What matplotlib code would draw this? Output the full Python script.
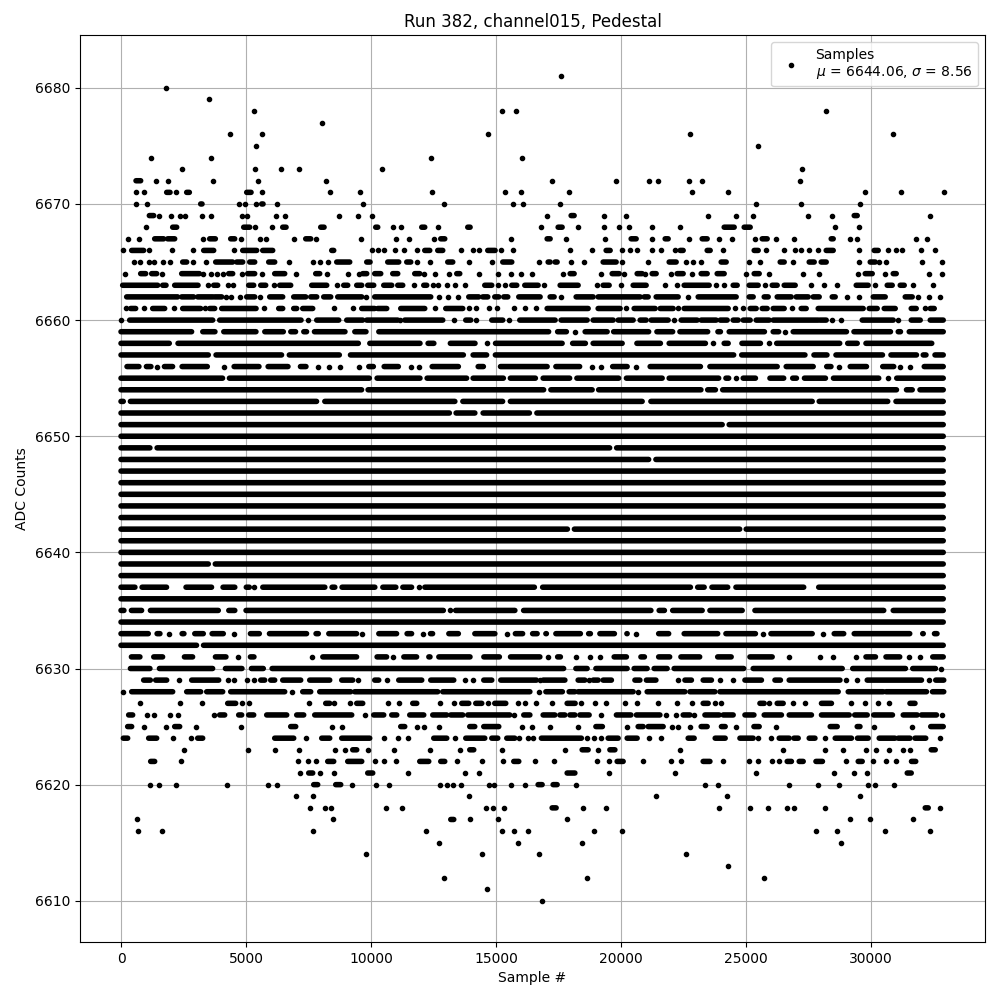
import matplotlib
matplotlib.use('Agg')
import matplotlib.pyplot as plt

title = "Run 382, channel015, Pedestal"
legend_label = "Samples\n$\\mu$ = 6644.06, $\\sigma$ = 8.56"

# ADC level -> samples. int = one dot, tuple = touching dots (first, last)
upper_rows = {
    6681: [17600],
    6680: [1786],
    6679: [3506],
    6678: [5306, 15226, 15786, 28200],
    6677: [8026],
    6676: [4346, 5626, 14666, 22760, 30880],
    6675: [5386, 25480],
    6674: [1186, 3586, 12386, 16040],
    6673: [2426, 5346, 6386, 7106, 10426, 27240],
    6672: [(600, 786), 1386, 1866, 3666, 5466, 8186, 17240, 19800, 21120, 21480, 22720, 23240, 27160],
    6671: [586, 906, (1826, 1960), 2186, (2626, 2733), (5026, 5200), 5626, 8346, 9546, 12426, 15346, 15986,
           17920, 22840, 24280, 29760, 31200, 32920],
    6670: [586, 1026, (3186, 3240), 4706, 4946, 5386, (5626, 5680), 6226, 9666, 12906, 15680, 16066,
           17560, 25400, 27200, 29560],
    6669: [(1133, 1306), 1506, 1986, 2346, 2546, 3226, 3586, 4826, 5026, 6186, 6546, 8706, 9466, 10026,
           17040, (18000, 18120), 19320, 20200, 23480, 24600, 25280, 27480, 28440, (29320, 29440), 32360],
    6668: [986, (2066, 2226), (4906, 5146), 5346, 6026, (6466, 6600), (7986, 8120), (10186, 10266), 10866, 11186,
           (12026, 12146), 12666, (13866, 13960), 16800, (17480, 17640), 18280, 19320, 19920, 20320, 21240, 22360,
           (24120, 24520), (24920, 25160), 28560, 29520],
    6667: [266, 706, (1346, 1706), (1866, 2146), 3266, (3546, 3773), (4386, 4546), 4786, 5546, 5786, 6906,
           (7386, 7586), 7786, 9586, 10986, 11506, 12506, (12786, 12946), 15586, (17040, 17160), 17800, 19360,
           (20400, 20600), 21240, (21760, 21880), 22720, (23240, 23440), 23920, 24440, 25360, (25640, 25840), 26200,
           26920, (28400, 28480), 29160, 29440, 31800, 32240],
    6666: [66, (426, 906), 1106, 2026, 2866, (3306, 3706), 4506, (4866, 5426), (5666, 6066), (8426, 8506), 10026,
           10266, 10506, 10946, 11306, 11826, (12146, 12346), (12666, 12866), 13586, 14066, 14306, (14666, 14960),
           15186, 15680, 17960, 18840, (19400, 19560), 20040, 20360, 20640, 21240, 21600, 22160, (22360, 22480),
           (23440, 23560), 24080, (25320, 25480), 25800, 26520, 26960, 27200, 27520, 27880, (28200, 28480), 29520,
           (30120, 30280), 30680, 31000, 31240, 32000, 32560],
    6665: [506, 746, 1106, 1306, 1666, 1946, (2466, 2626), 2866, 3386, (3786, 4466), (4626, 4866), (5146, 5346),
           (5906, 6146), 6706, 7666, 7946, 8266, (8626, 9146), (9826, 9960), (10666, 11106), (11426, 11586), 11826,
           12346, (13066, 13266), 13906, 14826, (15266, 15626), 16720, (17080, 17160), (17360, 17440), 18000, 18520,
           (19280, 19800), 20040, 21080, (21920, 22200), 22600, 22880, 23200, (24000, 24200), 25120, 25560,
           (26360, 26520), 26880, (27520, 27720), (28000, 28200), 29520, (29960, 30160), 30320, 30600, 32040, 32840],
    6664: [146, (786, 986), (1226, 1426), 1626, (2426, 3133), 3266, 3586, 3826, 4066, (4306, 4466), 4826, (5066, 5346),
           5626, (6146, 6546), 6986, (7786, 7946), 8226, 9066, 9506, (9666, 9826), (10146, 10386), (10866, 11066),
           (11746, 11946), 12106, 12546, 13106, (13426, 13546), 14306, 15066, 15586, 15986, 16440, 17680,
           (17960, 18120), 19200, (19640, 19920), 20120, (20640, 20840), 20960, (21240, 21400), 22000, (22240, 22480),
           22840, (23200, 23440), (23840, 24120), 25000, (25320, 25520), 25920, 27280, 27920, 29480, (29760, 30040),
           30560, (30880, 31000), 32320, 32840],
    6663: [(66, 1466), (1666, 1800), (2146, 3080), 3466, (3706, 3866), 4266, 4466, (5106, 5306), (5586, 5786), 6106,
           (6346, 6786), (7626, 8226), 8626, (8906, 9066), (9426, 9626), (9866, 10106), (10506, 10826), (11066, 11266),
           11706, (12106, 12226), 12466, 12666, 13026, 13346, 13746, (14546, 14826), 15066, 15346, (15626, 15826),
           (16146, 16680), 16920, (17560, 18280), 19040, (19280, 19520), 20000, (20480, 21000), 21760, 22240,
           (22520, 23520), 23800, 24120, (24480, 24640), (25120, 25480), 25760, (26040, 26240), (26520, 26960), 27600,
           28120, 28640, (29400, 29880), 30160, (30640, 30840), (31160, 31320), 31680, 32480],
    6662: [(226, 2266), (2426, 2906), (3066, 3666), (3746, 4026), 4186, 4386, 4746, (5026, 5346), 5546, (5946, 6466),
           (6906, 7386), (7586, 7826), (8106, 8386), (8666, 9626), 9786, (10146, 12386), 12706, 13066, 13466,
           (13906, 14306), (14466, 14666), (14946, 15106), (15306, 15466), (15906, 16760), (17160, 17320), 17600,
           (18200, 18880), (19080, 20760), (20920, 21080), (21400, 22280), 22680, (23080, 24600), (25120, 25280),
           (25720, 25880), (26240, 26800), (27000, 27480), (27680, 27920), (28440, 28560), 29040, 29520,
           (30080, 30560), (31360, 31640), 31880, 32320, 32760],
    6661: [186, (386, 586), 906, (1266, 1746), 2106, (2466, 3186), 3346, (3546, 3746), (4026, 5400), 5706, (6306, 6466),
           (6906, 7026), (7266, 7666), 8506, 9266, (9626, 10146), (10266, 10626), (11186, 12146), 12546, (12986, 13666),
           13906, 14186, 14706, 15026, 15706, 16146, 16600, (17040, 18680), (19080, 19960), 20200, (20520, 21360),
           (21560, 22080), 22280, (22520, 24280), 24560, 24880, (25160, 25400), (25640, 25840), (26080, 26520), 26840,
           (27200, 27400), (27880, 29680), (29920, 30240), (30520, 30960), (31600, 31800), 32160, (32360, 32520)],
    6660: [0, (346, 3666), (3946, 7200), 7466, (7826, 8706), (9026, 9666), (9826, 11066), 11146, (11346, 12866), 13306,
           (13786, 13986), 14186, (14826, 15266), 15506, (15946, 17360), (17600, 18640), (18880, 19680), (19880, 20480),
           (20760, 21000), (21200, 21880), 22120, (22400, 23040), (23200, 23800), (23960, 24240), (24480, 24680),
           (24880, 25160), (25400, 25920), (26080, 27880), (27960, 28200), 28440, 28800, (29640, 30880), 31080,
           (31600, 31960), (32360, 32880)],
}

lower_rows = {
    6629: [(906, 1173), (1386, 1826), 2306, (2826, 3906), 4266, 4506, 5026, 5306, (5586, 5746), (5986, 6146),
           (6466, 7186), (7546, 8346), (8826, 9266), 9466, (10146, 10306), 10626, (11106, 12026), (12386, 13306), 13746,
           14066, (14506, 14826), (15186, 16610), 16750, (16880, 17750), (18280, 18550), 18720, (18880, 19080),
           (19280, 19610), (20550, 20750), (21010, 21390), 22280, (22550, 22810), (23280, 23610), 23950, 24480,
           (24950, 25610), (26150, 26370), (26720, 28750), 28980, 29440, (29840, 32010), 32320, (32580, 32900)],
    6628: [66, (426, 2066), (2626, 3186), (3426, 4066), (4386, 6546), 6840, (7266, 7586), (7946, 9186), (9346, 12666),
           (12866, 16350), 16710, (16990, 17650), (17920, 18150), (18280, 20480), 20680, (21040, 22550), (22750, 23750),
           (23950, 28680), (29080, 30480), (30590, 32210), (32450, 32900)],
    6627: [746, 2346, 3226, (4266, 4586), 4826, 5106, 7506, (8186, 8346), 8506, 9146, (9426, 9666), 10666, 11106,
           (11666, 11826), 12746, 13306, (13626, 13906), (14186, 14426), 14666, (14946, 15386), 15866, 16146, 16600,
           17240, (17840, 18160), 18400, 18950, 19410, 20170, 20640, 21480, 22240, 22840, (23280, 23480), 23750, 24010,
           (25550, 25720), 25920, (26240, 26480), 26880, 27350, (28010, 28410), 29180, 29750, 30290, 30720, (31550, 31750)],
    6626: [(306, 466), 1026, 1306, 1946, 2266, 3706, (3946, 4146), (4706, 4826), (5106, 5306), (5826, 6626), (7026, 7306),
           (7746, 9226), 9746, (10106, 10506), (10826, 11026), (11546, 12106), (12466, 13026), (13186, 13666),
           (13866, 15546), 15733, (16106, 16350), (16880, 17350), (17550, 17750), (17950, 18150), (18350, 18720), 19210,
           (19810, 20390), (20610, 21550), 21790, 22190, (22480, 22750), 22920, (23350, 23920), (24080, 24480),
           (24950, 25310), (25720, 26410), (26720, 27610), (28010, 29120), (29340, 29840), (30100, 30850), (31280, 31840),
           (32010, 32610), 32840],
    6625: [(266, 426), 906, 1786, (2146, 2346), 2986, 4786, (6786, 6986), 8426, 8826, (11186, 11346), 11826, 12106, 12706,
           (13946, 14146), (14506, 15106), 16026, 16420, 17160, 18280, (18990, 19250), 20240, (20680, 20880), (21080, 21680),
           22040, 22280, 22760, (23200, 23440), (24010, 24160), 24600, (25310, 25520), 26210, (28360, 28640), (29440, 29550),
           30120, 31640, (32380, 32880)],
    6624: [(93, 266), (1106, 1426), 2066, 2786, (3066, 3266), (6146, 6906), 7386, (8026, 8346), (8826, 9946), 10506, 11066,
           11466, (12506, 13026), 13346, (13786, 14546), (14826, 15066), (15426, 15746), 15906, 16266, 16480, (16810, 18410),
           18640, 18920, 19200, (19480, 19880), (20240, 20640), 21120, 21600, (22680, 22920), (23760, 24160), (24750, 25280),
           25480, 26000, (26320, 26720), (26910, 27080), (27520, 27750), 28160, (28560, 29210), (29450, 29880), (30320, 30950),
           (31080, 31550), (31750, 32180), 32760],
    6623: [2506, 5066, 6146, 7106, 8546, 8946, (9266, 9426), 9866, 10906, 12346, 13546, (13946, 14106), 15226, 17760,
           (18440, 18680), 19080, (19550, 19750), 22360, 26480, 28160, 28880, 29800, 30200, 30720, 31280, 31560, (32400, 32560)],
    6622: [(1186, 1346), 2386, 7066, 7466, 7786, (8266, 8506), (9066, 9626), 10146, 10506, 10986, (11946, 12306),
           (12786, 12946), 13426, 14426, 15266, (15706, 15906), 16560, 17320, 19040, 19520, (19840, 20080), 20880, 22000,
           22400, (23280, 23550), 24080, 25110, 25480, 26040, 26320, (26640, 26810), (27120, 27280), (27790, 28050), 29000,
           (29480, 29640), 30080, 30600, 31000, (31610, 31780)],
    6621: [7146, (7506, 7666), 7946, 8506, (9866, 10066), 11466, 13746, 14306, (17840, 18150), 19520, 22160, 25400, 28520,
           29320, 29840, (31440, 31600)],
    6620: [1146, 1506, 2186, 4226, 5866, 6226, (7706, 7866), (8586, 8786), 9226, 10186, 10706, 12746, 13026, 13266, 13586,
           14706, 14906, 15586, 16146, (16680, 16840), (17280, 17440), 18200, 23360, 23880, 26720, 27880, 28720, 29880, 30160,
           30920],
    6619: [6986, 7666, 13906, 21400, 24240, 29560],
    6618: [7546, 8146, 8386, 10586, 11226, 14586, 14866, 15306, (17240, 17400), 18480, 19400, 23920, 25160, 25880, 26640,
           26920, 28160, (32160, 32280), 32760],
    6617: [626, 8466, (13186, 13306), 13946, 15066, 17840, 29160, 29960, 31680],
    6616: [666, 1626, 7666, 12186, 15226, 15706, 16266, 18920, 20040, 27800, 28640, 30560, 32360],
    6615: [12706, 15866, 18440, 28800],
    6614: [9786, 14426, 16720, 22600],
    6613: [24280],
    6612: [12906, 18640, 25720],
    6611: [14626],
    6610: [16840],
}

# dense bands: (outer left edge, outer right edge) of each unbroken stretch; int = one dot
core_rows = {
    6659: [(-110, 2933), (3160, 3866), (4000, 5506), (5640, 6600), (6680, 7090), (7200, 7530), (7626, 9066), (9240, 9906),
           (10200, 17210), (17350, 17920), 18160, (18450, 19550), (19590, 21210), (21320, 22170), (22240, 23570),
           (23760, 24080), (24210, 25840), (25970, 26410), 26560, (26770, 29120), (29200, 30880), (30970, 31280), (31410, 32990)],
    6658: [(-110, 2040), (2170, 9600), (9840, 12066), (12170, 12620), (13060, 14266), 14640, (14866, 17750), (17950, 18680),
           (18770, 20150), (20520, 21680), (21810, 23480), 23680, (24010, 24390), (24720, 25680), 25920, (26110, 28850),
           (28950, 29550), (29680, 32530)],
    6657: [(-110, 3600), (3690, 6530), (6620, 8840), (9066, 13800), (13970, 14730), (14860, 24610), (24710, 27460),
           (27600, 28340), (28480, 30560), (30680, 31920), (31970, 32300), (32440, 32990)],
    6656: [(130, 826), (906, 1306), 1426, (1626, 2173), (2333, 3560), 4106, (4413, 5626), (5773, 6786), (7066, 7506), 7866,
           8306, 8746, 9506, (9800, 10200), (10413, 11200), 11586, 11906, (12333, 13600), (14173, 14600), (15066, 17150),
           (17280, 18450), 18830, 19200, (19550, 20350), 20600, (21050, 23280), (23440, 26350), (26490, 27790), (28110, 28500),
           28720, (29050, 29920), (30350, 31010), 31170, 31550, (32010, 32990)],
    6655: [(-110, 4170), (4226, 10040), (10130, 12066), (12130, 13930), (13970, 15400), (15460, 16680), (16770, 18050),
           (18120, 20010), (20100, 21750), (21810, 24010), (24080, 24410), 24610, (24770, 25480), (25840, 26610), (26750, 27120),
           (27220, 28280), (28380, 30410), 30680, (30910, 32990)],
    6654: [(-110, 9730), (9770, 17010), (17080, 18950), (18990, 23300), (23350, 23880), (23950, 31120), (31300, 31750),
           (31840, 32990)],
    6653: [(-110, 200), (266, 7930), (8040, 13460), (13560, 15370), (15460, 20950), (21080, 27750), (27810, 30770), (30880, 32990)],
    6652: [(-110, 13240), (13290, 14260), (14370, 16440), (16520, 32990)],
    6651: [(-110, 24150), (24210, 32990)],
    6650: [(-110, 32990)],
    6649: [(-110, 1266), (1333, 19650), (19710, 32990)],
    6648: [(-110, 21210), (21280, 32990)],
    6647: [(-110, 32990)],
    6646: [(-110, 32990)],
    6645: [(-110, 32990)],
    6644: [(-110, 32990)],
    6643: [(-110, 32990)],
    6642: [(-110, 17960), (18020, 24850), (24890, 32990)],
    6641: [(-110, 32990)],
    6640: [(-110, 32990)],
    6639: [(-110, 3600), (3660, 32990)],
    6638: [(-110, 32990)],
    6637: [(-110, 666), (733, 1930), (2490, 3730), (3970, 4660), (4900, 5240), 5330, (5560, 8260), (8330, 8660), (8730, 10260),
           (10360, 11100), (11160, 11730), 11906, (12040, 16640), (16750, 22880), (22950, 23430), (23520, 24370), (24480, 27410),
           (27790, 32990)],
    6636: [(-110, 32990)],
    6635: [(-110, 226), (306, 933), (1066, 4000), (4200, 4660), (4890, 13000), 13160, (13270, 15860), (15990, 21300),
           (21410, 21840), (21950, 23350), (23440, 24950), (25240, 30610), (30770, 32990)],
    6634: [(-110, 32990)],
    6633: [(-110, 1200), (1333, 1666), 1933, (2333, 2626), (2840, 3400), (3533, 4200), 4506, (5066, 5640), (5826, 7530),
           (7690, 8000), (8200, 9530), 9626, (10200, 11130), (11330, 11730), 12066, (12266, 12570), (13000, 13600), (14040, 15060),
           15426, (15660, 16170), (16350, 16750), (16880, 17120), (17280, 18480), (18590, 18880), (19040, 19840), (20120, 20350),
           20590, (21390, 22010), (22410, 23970), (24080, 25480), 25680, (25880, 27750), 28080, (28410, 29010), (29210, 31650),
           (31950, 32190), (32420, 32740)],
    6632: [(-110, 3130), (3190, 32990)],
    6631: [(306, 866), (1200, 1773), (2426, 2973), (3666, 4306), 4666, (5066, 5426), 7626, (7960, 9530), (10130, 10730), 10890,
           (11200, 11930), (12200, 12466), (12600, 14066), (14400, 15240), (15466, 16860), 17080, (17350, 17680), 18210, 18750,
           19150, (19610, 20320), (20680, 21040), (21390, 22050), (22280, 23250), (23750, 24510), (25040, 26150), 26720, 27950,
           28480, 29410, (29680, 30280), (30480, 31250), 31520, 31950, (32350, 32990)],
    6630: [(266, 1266), (1426, 3773), (4066, 4946), (5106, 5800), (5933, 17810), (18080, 18750), (18880, 20350), (20410, 21150),
           (21210, 21950), (22010, 25010), (25170, 28950), (29150, 31480), (31550, 32680), 32810],
}

dot_radius = 110  # half a dot on the sample axis

dot_x, dot_y = [], []
run_y, run_start, run_end = [], [], []

for rows, trim in ((upper_rows, 0), (lower_rows, 0), (core_rows, dot_radius)):
    for level, items in rows.items():
        for item in items:
            if isinstance(item, tuple):
                run_y.append(level)
                run_start.append(item[0] + trim)
                run_end.append(item[1] - trim)
            else:
                dot_x.append(item)
                dot_y.append(level)

fig, ax = plt.subplots(figsize=(10, 10), dpi=100)
ax.plot(dot_x, dot_y, 'k.', label=legend_label)
# no pixel snapping here, it would make the row spacing uneven
ax.hlines(run_y, run_start, run_end, colors='k', linewidth=4, capstyle='round', zorder=2, snap=False)
ax.set_xlim(-1640, 34550)
ax.set_ylim(6606.45, 6684.55)
ax.set_title(title)
ax.set_xlabel("Sample #")
ax.set_ylabel("ADC Counts")
ax.grid(True)
ax.legend(loc='upper right')
fig.subplots_adjust(left=0.08, right=0.985, top=0.965, bottom=0.058)
fig.savefig("out.png")
